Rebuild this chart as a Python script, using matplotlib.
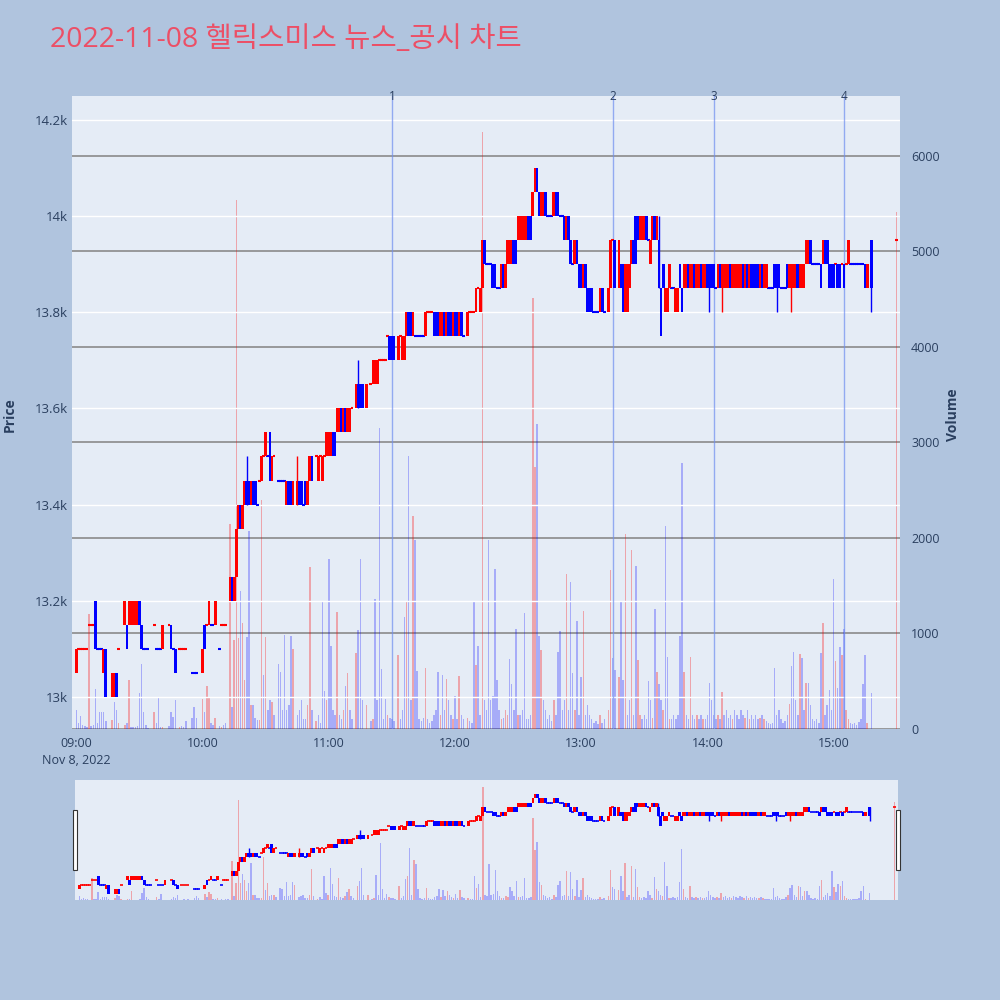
import matplotlib
matplotlib.use('Agg')
import matplotlib.pyplot as plt
import matplotlib.transforms as mtransforms
from matplotlib.patches import Rectangle

plt.rcParams['font.family'] = ['Open Sans', 'Noto Sans CJK KR', 'DejaVu Sans']

title = '2022-11-08 헬릭스미스 뉴스_공시 차트'

# minutes after 09:00 (continuous session 09:00-15:18, closing auction 15:30)
minutes = list(range(379)) + [390]

opens = [
    13050, 13100, 13100, 13100, 13100, 13100, 13150, 13150, 13150, 13200,
    13100, 13100, 13100, 13050, 13100, None, None, 13000, 13000, 13050,
    13100, None, None, 13150, 13150, 13150, 13150, 13150, 13150, 13150,
    13200, 13150, 13100, 13100, 13100, None, None, 13150, 13100, 13100,
    13100, 13100, None, None, 13150, 13150, 13100, 13100, None, 13100,
    13100, 13100, 13100, None, None, 13050, 13050, 13050, None, None,
    13050, 13150, 13150, 13150, 13150, 13150, 13150, None, 13100, 13150,
    13150, 13150, None, 13200, 13250, 13200, 13250, 13350, 13400, 13350,
    13400, 13450, 13450, 13400, 13450, 13450, 13400, 13450, 13450, 13500,
    13500, 13500, 13550, 13450, 13500, None, 13450, 13450, 13450, 13450,
    13400, 13450, 13450, 13400, None, 13400, 13450, 13450, 13400, 13450,
    13400, 13450, 13500, None, 13500, 13450, 13500, 13450, 13500, 13500,
    13500, 13500, 13550, 13550, 13550, 13550, 13600, 13550, 13600, 13550,
    13550, 13600, None, 13600, 13650, 13650, 13650, None, 13600, None,
    13650, 13650, 13650, 13650, 13700, 13700, 13700, 13700, 13750, 13750,
    13750, 13750, None, 13700, 13750, 13700, 13700, 13750, 13800, 13800,
    13750, 13750, 13750, 13750, 13750, 13750, 13750, 13800, 13800, 13800,
    13800, 13800, 13800, 13750, 13750, 13800, 13750, 13800, 13800, 13750,
    13800, 13800, 13750, 13800, 13750, None, 13750, 13800, 13800, 13800,
    13800, 13850, 13800, 13850, 13950, 13900, 13900, 13900, 13900, 13900,
    13850, 13850, 13850, 13900, 13850, 13900, 13900, 13900, 13950, 13950,
    13950, 13950, 13950, 13950, 13950, 14000, 14000, 14000, 14050, 14100,
    14050, 14000, 14000, 14050, 14000, 14000, 14000, 14000, 14050, 14050,
    14000, 14000, 14000, 13950, 14000, 13950, 13900, 13900, 13950, 13900,
    13900, 13850, 13900, 13850, 13850, 13850, 13800, 13800, 13800, 13800,
    13850, 13800, None, 13800, 13850, 13950, 13950, None, 13850, 13900,
    13900, 13800, 13800, 13850, 13900, 13950, 14000, 14000, 13950, 13950,
    13950, 14000, 13950, 13900, 13950, 14000, 13950, 13950, 13850, 13900,
    13800, 13800, 13850, 13850, 13850, 13800, 13800, 13900, 13850, 13850,
    13850, 13900, 13850, 13850, 13900, 13850, 13850, 13900, 13850, 13850,
    13900, 13900, 13900, 13900, 13850, 13850, 13900, 13850, 13850, 13850,
    13850, 13900, 13850, 13850, 13850, 13850, 13850, 13900, 13850, 13900,
    13850, 13900, 13900, 13900, 13900, 13850, 13900, 13850, 13850, 13850,
    13850, 13850, 13900, 13900, 13900, 13850, 13850, 13850, 13900, 13850,
    13850, 13850, 13850, 13900, 13850, 13850, 13850, 13900, 13900, 13950,
    13900, 13900, 13900, 13900, 13900, 13900, 13950, 13950, 13900, 13900,
    13900, 13900, 13900, 13900, 13900, 13900, 13900, 13900, 13900, 13900,
    13900, 13900, 13900, 13900, 13900, 13900, 13850, None, 13950,
    13950,
]

closes = [
    13100, 13100, 13100, 13100, 13100, 13100, 13150, 13150, 13150, 13100,
    13100, 13100, 13100, 13100, 13000, None, None, 13050, 13050, 13000,
    13100, None, None, 13200, 13100, 13200, 13200, 13200, 13200, 13200,
    13150, 13100, 13100, 13100, 13100, None, None, 13150, 13100, 13100,
    13100, 13150, None, None, 13150, 13100, 13100, 13050, None, 13100,
    13100, 13100, 13100, None, None, 13050, 13050, 13050, None, None,
    13100, 13100, 13150, 13200, 13150, 13150, 13200, None, 13100, 13150,
    13150, 13150, None, 13250, 13200, 13250, 13350, 13400, 13350, 13400,
    13450, 13400, 13400, 13450, 13400, 13400, 13400, 13450, 13500, 13500,
    13550, 13500, 13450, 13500, 13500, None, 13450, 13450, 13450, 13450,
    13450, 13400, 13400, 13450, None, 13450, 13400, 13400, 13400, 13400,
    13450, 13500, 13450, None, 13500, 13500, 13500, 13500, 13500, 13550,
    13550, 13550, 13500, 13500, 13600, 13600, 13550, 13600, 13550, 13600,
    13600, 13600, None, 13650, 13600, 13600, 13600, None, 13650, None,
    13650, 13700, 13700, 13700, 13700, 13700, 13700, 13700, 13750, 13700,
    13700, 13700, None, 13750, 13750, 13750, 13750, 13800, 13750, 13750,
    13800, 13750, 13750, 13750, 13750, 13750, 13800, 13800, 13800, 13800,
    13750, 13750, 13750, 13800, 13800, 13750, 13800, 13750, 13750, 13800,
    13750, 13750, 13800, 13750, 13750, None, 13800, 13800, 13800, 13800,
    13850, 13850, 13850, 13950, 13900, 13900, 13900, 13900, 13850, 13850,
    13850, 13850, 13900, 13850, 13900, 13950, 13950, 13950, 13900, 13900,
    14000, 14000, 14000, 14000, 14000, 13950, 13950, 14050, 14100, 14050,
    14000, 14050, 14050, 14000, 14000, 14000, 14000, 14050, 14000, 14000,
    14000, 14000, 13950, 14000, 13950, 13900, 13900, 13950, 13900, 13850,
    13850, 13900, 13850, 13800, 13800, 13800, 13800, 13800, 13800, 13850,
    13800, 13800, None, 13850, 13950, 13950, 13850, None, 13950, 13850,
    13800, 13900, 13900, 13900, 13950, 13900, 13900, 13950, 14000, 14000,
    14000, 13950, 13950, 13950, 14000, 13950, 14000, 13850, 13750, 13850,
    13850, 13850, 13900, 13850, 13850, 13850, 13850, 13850, 13800, 13900,
    13900, 13850, 13900, 13900, 13850, 13900, 13900, 13850, 13900, 13900,
    13850, 13850, 13850, 13850, 13850, 13900, 13850, 13900, 13900, 13900,
    13900, 13850, 13900, 13900, 13900, 13900, 13900, 13850, 13900, 13850,
    13900, 13850, 13850, 13850, 13850, 13900, 13850, 13900, 13900, 13850,
    13850, 13850, 13850, 13850, 13850, 13850, 13850, 13850, 13850, 13900,
    13900, 13900, 13900, 13850, 13900, 13900, 13900, 13950, 13950, 13900,
    13900, 13900, 13900, 13900, 13850, 13950, 13900, 13900, 13850, 13850,
    13850, 13900, 13850, 13850, 13900, 13850, 13900, 13950, 13900, 13900,
    13900, 13900, 13900, 13900, 13900, 13850, 13900, None, 13850,
    13950,
]

volumes = [
    200, 60, 135, 40, 30, 20, 1200, 30, 40, 420,
    60, 180, 180, 180, 80, 0, 0, 90, 280, 200,
    60, 0, 0, 40, 60, 510, 20, 20, 20, 30,
    380, 680, 180, 40, 10, 0, 0, 180, 60, 325,
    20, 20, 0, 0, 30, 180, 125, 300, 0, 20,
    30, 20, 80, 0, 0, 120, 230, 120, 0, 0,
    315, 180, 450, 325, 60, 40, 120, 0, 30, 20,
    40, 60, 0, 2150, 230, 930, 5540, 950, 1450, 1110,
    510, 960, 2070, 250, 250, 120, 90, 90, 2400, 570,
    960, 200, 300, 280, 150, 0, 680, 600, 200, 985,
    200, 250, 970, 840, 0, 150, 200, 300, 100, 100,
    250, 1700, 200, 0, 80, 150, 60, 1330, 400, 300,
    1780, 870, 200, 150, 1225, 150, 100, 200, 450, 590,
    200, 100, 0, 800, 1040, 1780, 300, 0, 250, 0,
    80, 100, 1360, 300, 3150, 630, 100, 310, 150, 120,
    100, 80, 0, 780, 100, 200, 1170, 1340, 2860, 300,
    2230, 1980, 610, 100, 80, 120, 640, 100, 60, 80,
    150, 200, 600, 150, 570, 200, 520, 300, 150, 100,
    350, 100, 560, 150, 100, 0, 120, 80, 60, 1340,
    670, 870, 150, 6250, 300, 200, 1980, 300, 350, 1680,
    510, 200, 100, 120, 200, 150, 730, 470, 200, 1050,
    150, 150, 200, 1215, 100, 100, 150, 4510, 2740, 3190,
    970, 830, 300, 200, 100, 150, 80, 300, 150, 810,
    1030, 200, 300, 1620, 200, 1540, 590, 200, 1130, 150,
    540, 1235, 150, 250, 150, 100, 60, 80, 50, 150,
    60, 100, 0, 200, 1670, 740, 620, 0, 540, 1330,
    510, 2040, 150, 300, 1870, 150, 1710, 720, 150, 100,
    150, 100, 500, 300, 120, 1260, 600, 470, 300, 200,
    2125, 750, 100, 100, 150, 100, 150, 970, 2790, 600,
    150, 100, 750, 150, 100, 150, 100, 150, 100, 100,
    150, 480, 300, 150, 100, 150, 100, 390, 150, 200,
    120, 150, 100, 200, 150, 100, 200, 150, 120, 200,
    100, 150, 100, 150, 100, 120, 150, 100, 80, 60,
    50, 60, 640, 150, 200, 100, 60, 80, 150, 260,
    660, 810, 300, 150, 790, 745, 200, 480, 480, 250,
    100, 80, 100, 60, 800, 1105, 150, 250, 410, 200,
    1575, 710, 430, 860, 775, 1045, 200, 100, 60, 50,
    60, 40, 70, 100, 470, 780, 60, 0, 380,
    5410,
]

# candles whose shadow reaches past the body
wick_highs = {81: 13500, 105: 13500, 134: 13700, 277: 14000}
wick_lows = {301: 13800, 307: 13800, 333: 13800, 340: 13800, 378: 13800}

event_labels = ['1', '2', '3', '4']
event_minutes = [150, 255, 303, 365]

hour_labels = ['09:00', '10:00', '11:00', '12:00', '13:00', '14:00', '15:00']
date_label = 'Nov 8, 2022'
price_ticks = [13000, 13200, 13400, 13600, 13800, 14000, 14200]
price_tick_labels = ['13k', '13.2k', '13.4k', '13.6k', '13.8k', '14k', '14.2k']
volume_ticks = [0, 1000, 2000, 3000, 4000, 5000, 6000]

RED = '#FF0000'
BLUE = '#0000FF'
BG = '#B0C4DE'
PLOT_BG = '#E5ECF6'
TXT = '#2a3f5f'

# direction of each candle and of each volume bar
candle_up, vol_up = [], []
prev_close, prev_dir = None, True
for o, c in zip(opens, closes):
    if o is None:
        candle_up.append(None)
        vol_up.append(None)
        continue
    if c > o:
        d = True
    elif c < o:
        d = False
    elif prev_close is None or c > prev_close:
        d = True
    elif c < prev_close:
        d = False
    else:
        d = prev_dir
    candle_up.append(d)
    vol_up.append(prev_close is not None and c > prev_close)
    prev_close, prev_dir = c, d

xmin, xmax = -2.1, 391.6
pmin, pmax = 12933, 14250
vmax = 6628


def draw(ax_v, ax_p, body_w, doji_lw):
    vx, vh, vc = [], [], []
    bx, bb, bh, bc = [], [], [], []
    for m, o, c, v, d, vu in zip(minutes, opens, closes, volumes, candle_up, vol_up):
        if o is None:
            continue
        col = RED if d else BLUE
        vx.append(m)
        vh.append(v)
        vc.append((1, 0, 0, 0.3) if vu else (0, 0, 1, 0.27))
        hi = wick_highs.get(m, max(o, c))
        lo = wick_lows.get(m, min(o, c))
        if hi > max(o, c) or lo < min(o, c):
            ax_p.vlines(m, lo, hi, color=col, lw=1.0, zorder=3)
        if o != c:
            bx.append(m)
            bb.append(min(o, c))
            bh.append(abs(c - o))
            bc.append(col)
        else:
            ax_p.hlines(o, m - body_w / 2, m + body_w / 2, color=col,
                        lw=doji_lw, zorder=3)
    ax_v.bar(vx, vh, width=0.7, color=vc, linewidth=0, zorder=2)
    ax_p.bar(bx, bh, bottom=bb, width=body_w, color=bc, linewidth=0, zorder=3)
    ax_v.set_ylim(0, vmax)
    ax_p.set_ylim(pmin, pmax)
    ax_v.set_xlim(xmin, xmax)


fig = plt.figure(figsize=(10, 10), dpi=100, facecolor=BG)

axv = fig.add_axes([0.072, 0.271, 0.828, 0.633], facecolor=PLOT_BG)
axp = axv.twinx()
draw(axv, axp, 1.3, 1.5)

for ax in (axv, axp):
    for s in ax.spines.values():
        s.set_visible(False)

axv.yaxis.tick_right()
axv.set_yticks(volume_ticks)
axv.set_yticklabels([str(t) for t in volume_ticks])
axv.yaxis.grid(True, color='#8a8a8a', lw=1.2)
axv.set_axisbelow(True)
axv.tick_params(axis='y', length=0, pad=8, labelsize=9, labelcolor=TXT,
                right=False, labelright=True, left=False, labelleft=False)

axp.yaxis.tick_left()
axp.set_yticks(price_ticks)
axp.set_yticklabels(price_tick_labels)
axp.yaxis.grid(True, color='white', lw=1.0)
axp.set_axisbelow(True)
axp.tick_params(axis='y', length=0, pad=3, labelsize=9.5, labelcolor=TXT,
                left=False, labelleft=True, right=False, labelright=False)

axv.set_xticks([60 * i for i in range(len(hour_labels))])
axv.set_xticklabels([hour_labels[0] + '\n' + date_label] + hour_labels[1:],
                    linespacing=1.35)
axv.tick_params(axis='x', length=0, pad=6, labelsize=9, labelcolor=TXT)

# news / disclosure markers
trans = mtransforms.blended_transform_factory(axp.transData, axp.transAxes)
for m, lab in zip(event_minutes, event_labels):
    axp.axvline(m, color='#6f8ff0', lw=1.0, alpha=0.7, zorder=1)
    axp.text(m, 1.0, lab, transform=trans, ha='center', va='center',
             fontsize=8.5, color=TXT)

fig.text(0.05, 0.960, title, ha='left', va='center', fontsize=20.5,
         color='#EC4F66')
fig.text(0.010, 0.585, 'Price', rotation=90, ha='center', va='center',
         fontsize=10, fontweight='bold', color=TXT)
fig.text(0.953, 0.585, 'Volume', rotation=90, ha='center', va='center',
         fontsize=10, fontweight='bold', color=TXT)

# range slider
sv = fig.add_axes([0.075, 0.100, 0.823, 0.120], facecolor=PLOT_BG)
sp = sv.twinx()
draw(sv, sp, 1.3, 1.2)
for ax in (sv, sp):
    for s in ax.spines.values():
        s.set_visible(False)
    ax.set_xticks([])
    ax.set_yticks([])

for hx in (0.0725, 0.8955):
    fig.patches.append(Rectangle((hx, 0.130), 0.0045, 0.060,
                                 transform=fig.transFigure, facecolor='white',
                                 edgecolor='#333333', lw=0.8, zorder=5))

fig.savefig('out.png', dpi=100, facecolor=BG)
